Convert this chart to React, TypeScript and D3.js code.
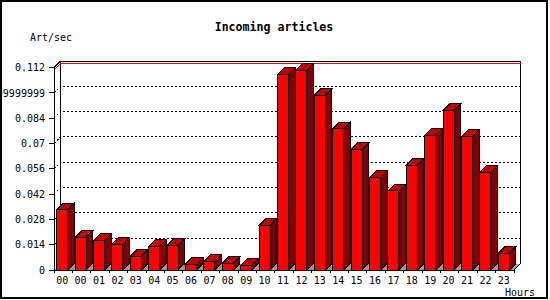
import React from "react";
import * as d3 from "d3";

const categories = ["00","00","01","02","03","04","05","06","07","08","09","10","11","12","13","14","15","16","17","18","19","20","21","22","23"];
const values = [0.0332,0.0181,0.0164,0.0142,0.0076,0.0130,0.0137,0.0032,0.0048,0.0037,0.0026,0.0247,0.1082,0.1106,0.0966,0.0780,0.0667,0.0513,0.0437,0.0579,0.0745,0.0883,0.0739,0.0540,0.0092];
const yTicks = [0,0.014,0.028,0.042,0.056,0.07,0.084,0.098,0.112];
const yTickLabels = ["0","0.014","0.028","0.042","0.056","0.07","0.084","0.09799999999","0.112"];
const title = "Incoming articles";
const yTitle = "Art/sec";
const xTitle = "Hours";

const W = 550, H = 300;
const D = 6.5;
const FONT = "'DejaVu Sans Mono', 'Liberation Mono', monospace";

export default function App() {
  const x = d3.scaleBand<number>().domain(values.map((_, i) => i)).range([54, 514]);
  const y = d3.scaleLinear().domain([0, 0.112]).range([270, 67.5]);
  const x0 = x.range()[0], x1 = x.range()[1];
  const y0 = y(0), yTop = y(0.112);
  const maxV = d3.max(values) as number;
  const ym = y(maxV);
  const bw = 11;
  const off = 2.7;
  const pts = (a: number[][]) => a.map(p => p.join(",")).join(" ");

  return (
    <svg width={W} height={H} style={{ position: "absolute", left: 0, top: 0, display: "block" }} shapeRendering="crispEdges">
      <rect x={0} y={0} width={W} height={H} fill="#fff" />
      <rect x={1} y={1} width={546} height={297} fill="none" stroke="#000" strokeWidth={2} />
      {/* gridlines */}
      {yTicks.slice(1, -1).map((t, i) => (
        <polyline key={"g" + i} fill="none" stroke="#000" strokeWidth={1} strokeDasharray="2,2"
          points={pts([[x0, y(t)], [x0 + D, y(t) - D], [x1 + D, y(t) - D]])} />
      ))}
      {/* floor */}
      <polygon points={pts([[x0, y0], [x1, y0], [x1 + D, y0 - D], [x0 + D, y0 - D]])} fill="#999999" />
      {/* back frame */}
      <polyline fill="none" stroke="#000" points={pts([[x0 + D, y0 - D], [x0 + D, yTop - D], [x1 + D, yTop - D], [x1 + D, y0 - D], [x1, y0]])} />
      <line x1={x0} y1={yTop} x2={x0 + D} y2={yTop - D} stroke="#000" />
      {/* max line */}
      <polyline fill="none" stroke="#ff0000" points={pts([[x0, ym], [x0 + D, ym - D], [x1 + D, ym - D]])} />
      {/* bars */}
      {values.map((v, i) => {
        const bx = (x(i) as number) + off;
        const yt = y(v);
        return (
          <g key={"b" + i} stroke="#000" strokeWidth={1}>
            <polygon points={pts([[bx + bw, yt], [bx + bw + D, yt - D], [bx + bw + D, y0 - D], [bx + bw, y0]])} fill="#800000" />
            <polygon points={pts([[bx, yt], [bx + D, yt - D], [bx + bw + D, yt - D], [bx + bw, yt]])} fill="#c00000" />
            <rect x={bx} y={yt} width={bw} height={y0 - yt} fill="#ff0000" />
          </g>
        );
      })}
      {/* axes */}
      <line x1={x0} y1={yTop} x2={x0} y2={y0} stroke="#000" />
      <line x1={x0} y1={y0} x2={x1} y2={y0} stroke="#000" />
      {yTicks.map((t, i) => (
        <g key={"yt" + i}>
          <line x1={x0 - 5} y1={y(t)} x2={x0} y2={y(t)} stroke="#000" />
          <text x={45} y={y(t) + 3.7} textAnchor="end" fontFamily={FONT} fontSize={10} fill="#000">{yTickLabels[i]}</text>
        </g>
      ))}
      {values.map((_, i) => (
        <line key={"xt" + i} x1={x(i) as number} y1={y0} x2={x(i) as number} y2={y0 + 3} stroke="#000" />
      ))}
      <line x1={x1} y1={y0} x2={x1} y2={y0 + 3} stroke="#000" />
      {categories.map((c, i) => (
        <text key={"xl" + i} x={(x(i) as number) + off + bw / 2} y={283.5} textAnchor="middle" fontFamily={FONT} fontSize={10} fill="#000">{c}</text>
      ))}
      <text x={274} y={30.5} textAnchor="middle" fontFamily={FONT} fontSize={11.6} fontWeight="bold" fill="#000">{title}</text>
      <text x={30} y={40.5} fontFamily={FONT} fontSize={10} fill="#000">{yTitle}</text>
      <text x={505} y={295.5} fontFamily={FONT} fontSize={10} fill="#000">{xTitle}</text>
    </svg>
  );
}
